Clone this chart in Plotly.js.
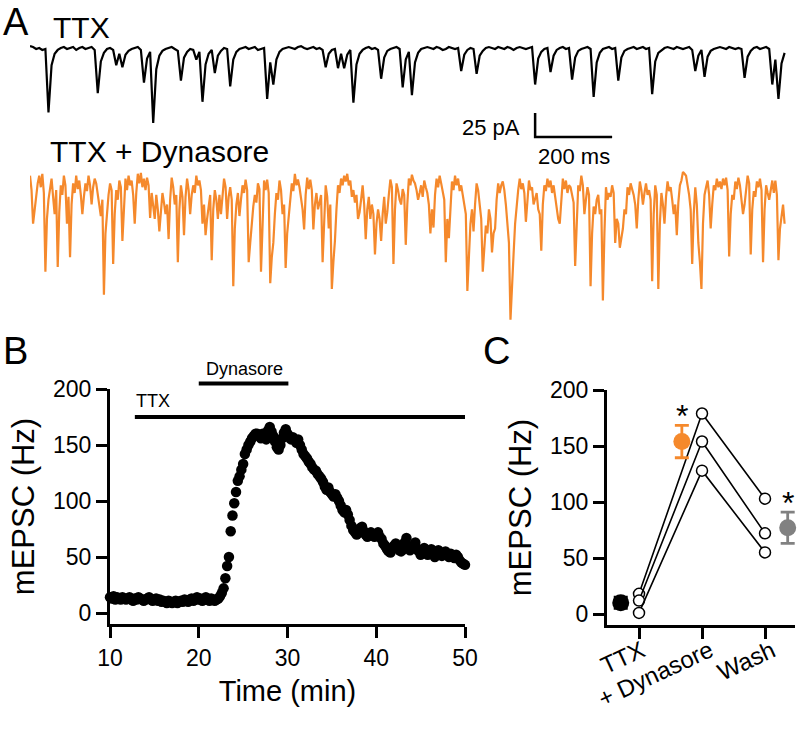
<!DOCTYPE html>
<html><head><meta charset="utf-8">
<script src="https://cdn.plot.ly/plotly-3.0.1.min.js"></script>
<style>html,body{margin:0;padding:0;background:#fff}#chart{width:800px;height:730px}</style>
</head><body><div id="chart"></div>
<script>
// ---------- Panel A: example current traces (pA) ----------
const ttxSampleMs = 8;
const ttxTrace = [
 2,1,-1,0,-2,-1,-67,-18,-6,-2,
 0,1,-1,0,1,-2,0,1,-1,0,
 1,-2,-47,-14,-5,-1,0,-2,-18,-6,
 -20,-7,-3,-1,0,1,-2,-36,-11,-4,
 -78,-22,-8,-3,-1,0,1,-1,-3,-34,
 -10,-4,-1,-2,-12,-4,-56,-17,-6,-2,
 -26,-8,-3,0,-1,-40,-12,-4,-1,0,
 1,-1,0,1,-2,-1,0,-53,-15,-38,
 -12,-4,-1,0,1,0,-1,1,2,0,
 -1,0,1,-1,0,-2,-20,-6,-2,-1,
 -21,-6,-21,-7,-2,-57,-17,-6,-2,0,
 1,-1,0,-2,-32,-10,-3,-1,0,1,
 -1,-41,-12,-4,-49,-15,-5,-1,0,1,
 0,-1,1,0,-2,-1,1,0,-1,0,
 -24,-7,-2,0,-1,-27,-8,-3,0,1,
 0,-1,1,0,-1,1,0,-2,0,1,
 0,-1,0,1,-38,-11,-4,-1,0,-25,
 -8,-2,0,1,-1,0,-33,-10,-3,-1,
 0,1,-1,-51,-15,-5,-1,0,1,-1,
 0,-34,-10,-3,-1,0,1,-1,0,1,
 -1,0,-48,-14,-5,-2,0,1,0,-1,
 1,0,-1,0,1,-2,-24,-8,-2,-30,
 -9,-3,-1,0,1,0,-1,1,0,-1,
 0,-1,-31,-9,-3,0,1,-1,0,1,
 -1,-38,-12,-53,-16,-5
];
const dynSampleMs = 4;
const dynTrace = [
 0,-15,-50,-35,-20,-8,0,-12,2,-18,-100,-45,-25,-14,-3,-22,-40,-15,-95,-38,
 -10,-20,0,-10,-50,-22,-85,-30,-8,-18,0,-14,-5,-20,-40,-22,-8,-16,0,-10,
 -30,-12,-3,-8,-20,-30,-42,-25,-124,-60,-35,-20,-8,-15,-92,-40,-15,-25,-5,-12,
 -68,-28,-3,-15,0,-10,-5,-20,-50,-18,2,-8,3,-12,-3,-15,-2,-10,-44,-18,
 -33,-45,-20,-35,-58,-40,-18,-28,-40,-30,-66,-25,-2,-12,-30,-20,-90,-35,-10,-22,
 -62,-22,-3,-15,-40,-20,-10,-18,0,-10,-5,-15,-50,-30,-62,-45,-30,-20,-88,-35,
 -15,-25,-45,-20,-40,-18,-3,-12,-45,-22,-12,-25,-115,-55,-30,-18,-42,-25,-10,-18,
 -4,-15,-90,-70,-50,-32,-20,-28,-8,-14,-100,-40,-5,-15,-4,-18,-112,-85,-70,-40,
 -18,-25,-5,-15,-40,-30,-96,-60,-45,-25,-8,-16,2,-10,-4,-12,-24,-35,-56,-20,
 -2,-14,-4,-15,-56,-30,-18,-35,-28,-20,-90,-40,-10,-22,-55,-30,-118,-90,-68,-35,
 -10,-18,-3,-10,0,-6,2,-10,-5,-22,-15,-28,-20,-45,-38,-25,-10,-30,-66,-35,
 -22,-45,-30,-40,-82,-50,-35,-45,-68,-40,-22,-50,-38,-20,-4,-12,-92,-35,-8,-15,
 -25,-30,-14,-20,-72,-30,-3,-10,1,-5,-8,-15,-25,-18,-10,-22,-5,-12,-18,-30,
 -60,-35,-54,-20,-3,-12,0,-8,-15,-25,-90,-45,-65,-30,-6,-15,0,-10,-3,-16,
 -10,-20,-30,-40,-120,-75,-50,-35,-58,-30,-8,-15,-30,-45,-100,-70,-52,-60,-35,-45,
 -80,-60,-55,-25,-8,-18,-10,-6,-15,-30,-55,-70,-150,-110,-82,-50,-30,-15,-3,-14,
 -8,-18,-48,-25,-5,-15,-12,-30,-25,-18,-35,-40,-78,-30,-10,-16,-3,-12,-5,-18,
 -10,-22,-36,-45,-50,-25,-3,-14,-5,-18,-10,-12,-20,-28,-94,-40,-10,-16,0,-10,
 -40,-25,-12,-20,-115,-60,-32,-40,-25,-20,-40,-35,-130,-60,-12,-25,-18,-22,-10,-18,
 -70,-45,-50,-75,-65,-55,-35,-40,-12,-20,-8,-14,-20,-30,-55,-25,-6,-15,-30,-18,
 -8,-20,-15,-25,-110,-40,-10,-20,-118,-50,-18,-30,-50,-22,-6,-16,-12,-25,-40,-30,
 -62,-28,-10,-5,4,2,0,-10,-20,-35,-92,-40,-12,-30,-70,-90,-118,-50,-20,-12,
 -5,-20,-55,-30,-10,-15,-3,-12,-6,-14,-3,-10,-2,-15,-84,-40,-20,-25,-6,-14,
 -2,-10,-25,-40,-30,-15,0,-8,-82,-35,-16,-22,-6,-12,-3,-15,-90,-35,-10,-18,
 -25,-15,-5,-18,-5,-20,-88,-55,-40,-30,-50
];
const scaleBarPA = 25;
const scaleBarMs = 200;

// ---------- Panel B: mEPSC frequency time course ----------
const timeStart = 10, timeStep = 0.2;
const rateHz = [
 14,13,15,12,14,13,12,14,13,12,
 13,14,12,11,13,12,14,13,12,11,
 12,13,14,12,11,12,13,11,12,10,
 11,10,9,11,10,9,10,11,9,10,
 11,10,12,11,10,12,13,11,12,14,
 12,13,11,12,14,12,11,13,12,11,
 12,13,15,18,22,31,42,50,73,87,
 98,108,118,122,128,133,142,146,150,153,
 156,158,160,160,158,156,160,157,155,163,
 166,162,158,153,148,146,150,156,161,164,
 160,157,155,157,155,152,155,150,146,142,
 140,138,135,133,130,128,127,124,122,120,
 117,113,110,112,108,106,104,106,103,100,
 96,92,90,92,88,83,78,74,72,70,
 72,76,77,73,70,68,70,72,70,68,
 70,72,68,66,62,60,57,55,54,58,
 60,62,58,56,55,57,63,67,60,56,
 58,60,63,57,55,52,56,58,54,52,
 55,57,53,50,52,56,54,51,53,55,
 52,50,53,51,49,52,50,47,45,44,
 43
];
const ttxPeriod = [12.8, 50];
const dynasorePeriod = [20, 30.1];
const ttxBarLevel = 175, dynBarLevel = 205;

// ---------- Panel C: summary ----------
const conditions = ["TTX", "+ Dynasore", "Wash"];
const conditionPos = [0, 1, 2];
const cell1 = [18, 179, 103];
const cell2 = [12, 154, 72];
const cell3 = [1, 128, 55];
const meanTTX = 10, semTTX = 5;
const meanDyn = 154, semDyn = 14.5;
const meanWash = 77, semWash = 14;
const meanPos = [-0.29, 0.68, 2.36];

// ---------- layout helpers (pixel -> paper) ----------
const W = 800, H = 730;
const fx = p => p / W;
const fy = p => 1 - p / H;
const FONT = "Liberation Sans, Arial, Helvetica, sans-serif";
const ORANGE = "#f5892c";
const GRAY = "#818181";

const ttxTime = ttxTrace.map((_, i) => i * ttxSampleMs);
const dynTime = dynTrace.map((_, i) => i * dynSampleMs);
const dynOffset = -133;
const times = rateHz.map((_, i) => +(timeStart + i * timeStep).toFixed(2));
const sbX = 1312, sbY = -92.7;

const data = [
  {x: ttxTime, y: ttxTrace, xaxis: "x3", yaxis: "y3", mode: "lines",
   line: {color: "#000", width: 2.2}, hoverinfo: "skip"},
  {x: dynTime, y: dynTrace.map(v => v + dynOffset), xaxis: "x3", yaxis: "y3", mode: "lines",
   line: {color: ORANGE, width: 2.2}, hoverinfo: "skip"},
  {x: [sbX, sbX, sbX + scaleBarMs], y: [sbY + scaleBarPA, sbY, sbY], xaxis: "x3", yaxis: "y3",
   mode: "lines", line: {color: "#000", width: 2.5}, hoverinfo: "skip"},
  {x: times, y: rateHz, xaxis: "x", yaxis: "y", mode: "markers", cliponaxis: false,
   marker: {color: "#000", size: 10.5}},
  {x: ttxPeriod, y: [ttxBarLevel, ttxBarLevel], xaxis: "x4", yaxis: "y4", mode: "lines",
   line: {color: "#000", width: 4}},
  {x: dynasorePeriod, y: [dynBarLevel, dynBarLevel], xaxis: "x4", yaxis: "y4", mode: "lines",
   line: {color: "#000", width: 4}},
];
[cell1, cell2, cell3].forEach(c => data.push({
  x: conditionPos, y: c, xaxis: "x2", yaxis: "y2", mode: "lines+markers", cliponaxis: false,
  line: {color: "#000", width: 1.6},
  marker: {size: 11, color: "#fff", line: {color: "#000", width: 1.5}}
}));
[[meanPos[0], meanTTX, semTTX, "#000"], [meanPos[1], meanDyn, semDyn, ORANGE], [meanPos[2], meanWash, semWash, GRAY]]
 .forEach(([px, m, s, col]) => data.push({
  x: [px], y: [m], xaxis: "x2", yaxis: "y2", mode: "markers", cliponaxis: false,
  marker: {size: 17, color: col},
  error_y: {type: "data", array: [s], color: col, thickness: 2.8, width: 7}
}));

const axisCommon = {
  showline: true, linecolor: "#000", linewidth: 3, ticks: "outside", tickcolor: "#000",
  tickwidth: 3, ticklen: 11, showgrid: false, zeroline: false, fixedrange: true, automargin: false,
  tickfont: {family: FONT, size: 23, color: "#000"}
};

// rotated condition labels for panel C, placed on the category positions of xaxis2
const condLabelShift = [12, 18, 17];
const condLabels = conditions.map((c, i) => ({
  text: c, xref: "x2", yref: "paper", x: conditionPos[i], y: fy(633), xshift: condLabelShift[i],
  xanchor: "right", yanchor: "top", textangle: -25, showarrow: false,
  font: {family: FONT, size: 24, color: "#000"}
}));

const layout = {
  width: W, height: H, margin: {l: 0, r: 0, t: 0, b: 0, autoexpand: false},
  paper_bgcolor: "#fff", plot_bgcolor: "rgba(0,0,0,0)", showlegend: false,
  font: {family: FONT, color: "#000"},
  xaxis: Object.assign({}, axisCommon, {domain: [fx(110), fx(465)], range: [10, 50],
    tickvals: [10, 20, 30, 40, 50], anchor: "y",
    title: {text: "Time (min)", font: {family: FONT, size: 29}, standoff: 12}}),
  yaxis: Object.assign({}, axisCommon, {domain: [fy(624), fy(389)], range: [-9.82, 200],
    tickvals: [0, 50, 100, 150, 200], anchor: "x",
    title: {text: "mEPSC (Hz)", font: {family: FONT, size: 31}, standoff: 10}}),
  xaxis2: Object.assign({}, axisCommon, {domain: [fx(607), fx(795)], range: [-0.508, 2.476],
    tickvals: conditionPos, showticklabels: false, anchor: "y2"}),
  yaxis2: Object.assign({}, axisCommon, {domain: [fy(625), fy(390)], range: [-9.8, 200],
    tickvals: [0, 50, 100, 150, 200], anchor: "x2",
    title: {text: "mEPSC (Hz)", font: {family: FONT, size: 31}, standoff: 10}}),
  xaxis3: {domain: [fx(30), 1], range: [0, 2000], visible: false, fixedrange: true, anchor: "y3"},
  yaxis3: {domain: [fy(330), fy(10)], range: [-293.7, 39.6], visible: false, fixedrange: true, anchor: "x3"},
  xaxis4: {domain: [fx(110), fx(465)], range: [10, 50], visible: false, fixedrange: true, anchor: "y4"},
  yaxis4: {domain: [fy(624), fy(360)], range: [-9.82, 225.9], visible: false, fixedrange: true, anchor: "x4"},
  annotations: [
    {text: "A", xref: "paper", yref: "paper", x: fx(1), y: fy(22), xanchor: "left", yanchor: "middle", showarrow: false, font: {size: 38}},
    {text: "B", xref: "paper", yref: "paper", x: fx(1), y: fy(351), xanchor: "left", yanchor: "middle", showarrow: false, font: {size: 38}},
    {text: "C", xref: "paper", yref: "paper", x: fx(481), y: fy(351), xanchor: "left", yanchor: "middle", showarrow: false, font: {size: 38}},
    {text: "TTX", xref: "paper", yref: "paper", x: fx(51), y: fy(27), xanchor: "left", yanchor: "middle", showarrow: false, font: {size: 30}},
    {text: "TTX + Dynasore", xref: "paper", yref: "paper", x: fx(48), y: fy(151), xanchor: "left", yanchor: "middle", showarrow: false, font: {size: 30}},
    {text: "25 pA", xref: "paper", yref: "paper", x: fx(522), y: fy(127), xanchor: "right", yanchor: "middle", showarrow: false, font: {size: 22}},
    {text: "200 ms", xref: "paper", yref: "paper", x: fx(574), y: fy(156), xanchor: "center", yanchor: "middle", showarrow: false, font: {size: 22}},
    {text: "TTX", xref: "x4", yref: "y4", x: 14.9, y: 189, xanchor: "center", yanchor: "middle", showarrow: false, font: {size: 18}},
    {text: "Dynasore", xref: "x4", yref: "y4", x: 25.2, y: 218, xanchor: "center", yanchor: "middle", showarrow: false, font: {size: 18}},
    {text: "*", xref: "x2", yref: "y2", x: meanPos[1], y: meanDyn + semDyn + 8, xanchor: "center", yanchor: "middle", showarrow: false, font: {size: 32}},
    {text: "*", xref: "x2", yref: "y2", x: meanPos[2], y: meanWash + semWash + 8, xanchor: "center", yanchor: "middle", showarrow: false, font: {size: 32}}
  ].concat(condLabels)
};

Plotly.newPlot("chart", data, layout, {staticPlot: true, displayModeBar: false});
</script></body></html>
